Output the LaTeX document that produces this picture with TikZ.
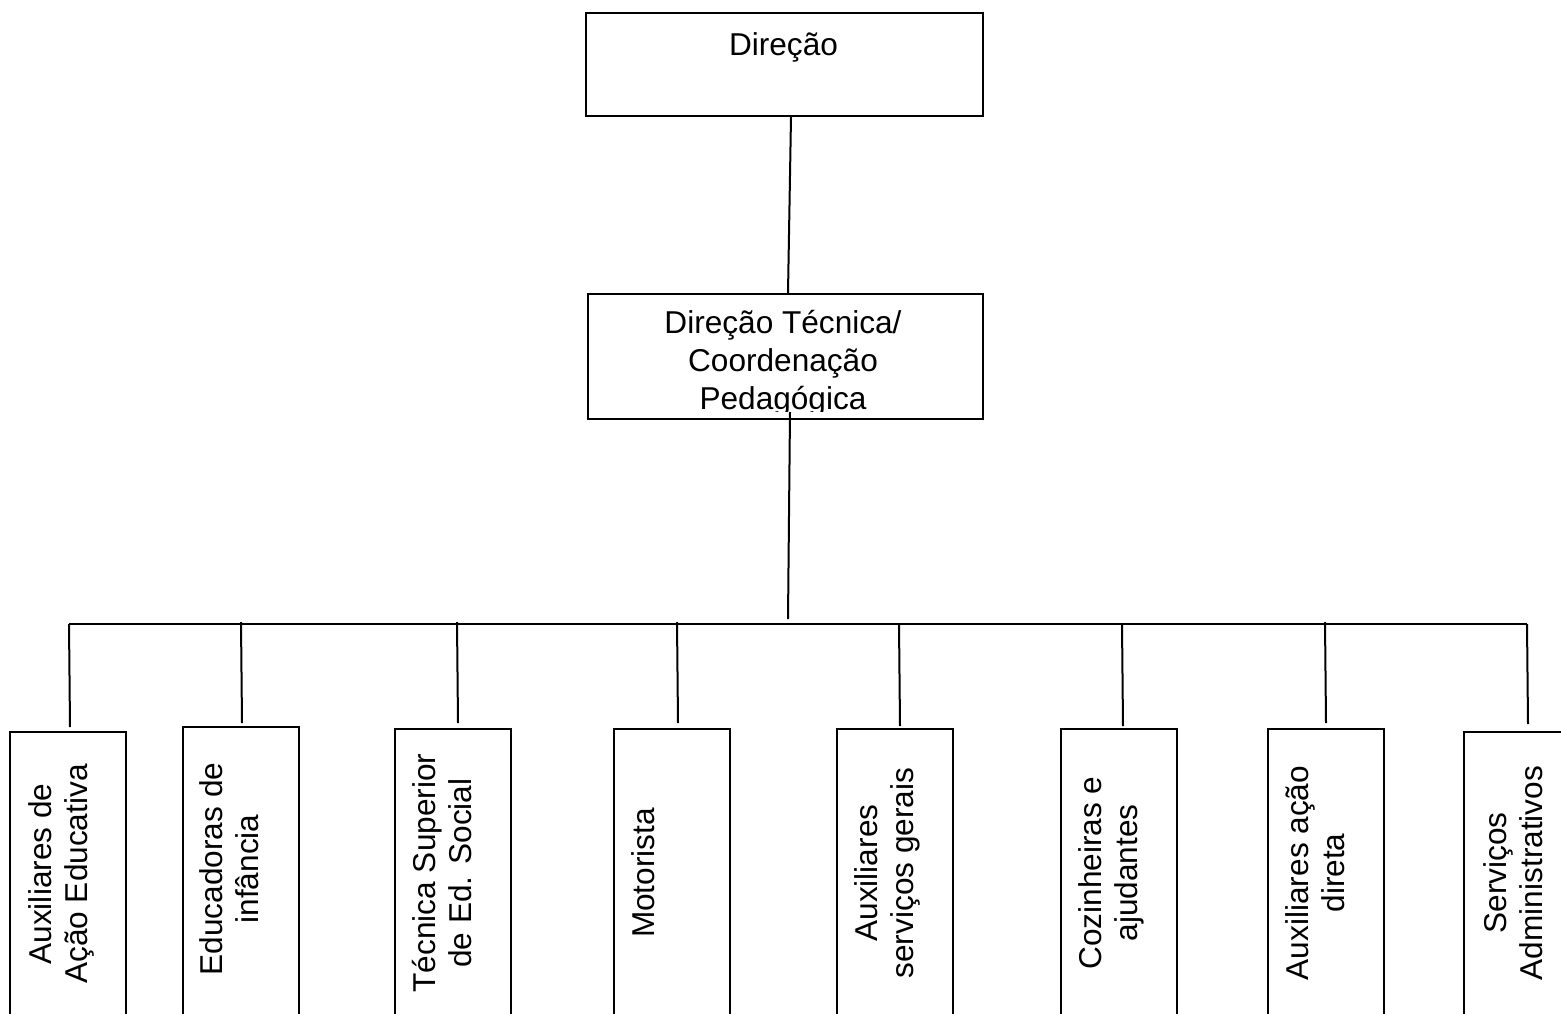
\documentclass[tikz,border=0pt]{standalone}
\usepackage{fontspec}
\setmainfont{Liberation Sans}
\tikzset{
  box/.style={draw, line width=2pt, inner sep=0pt, anchor=north west},
  unit/.style={box, minimum width=116pt, minimum height=330pt},
  lbl/.style={rotate=90, anchor=north, inner sep=0pt, align=center, font=\fontsize{31.6}{36.5}\selectfont},
  conn/.style={line width=2pt},
}
\begin{document}
\begin{tikzpicture}[x=1pt,y=-1pt]
\useasboundingbox (0,0) rectangle (1561,1014);
\clip (0,0) rectangle (1561,1014);
% top boxes
\node[box, minimum width=397pt, minimum height=103pt] (d) at (585,12) {};
\node[anchor=base, inner sep=0pt, font=\fontsize{31.6}{36.5}\selectfont] (dtxt) at (783.5,56) {Direção};
\node[box, minimum width=395pt, minimum height=125pt] (dt) at (587,293) {};
\begin{scope}
\clip (587,293) rectangle (982,411);
\node[anchor=north, inner sep=0pt, align=center, font=\fontsize{31.6}{38}\selectfont] (dttxt) at (783,310) {Direção Técnica/\\Coordenação\\Pedagógica};
\end{scope}
% bottom boxes
\node[unit] (b1) at (9,731) {};
\node[unit] (b2) at (181.5,726) {};
\node[unit] (b3) at (394,728) {};
\node[unit] (b4) at (613,728) {};
\node[unit] (b5) at (836,728) {};
\node[unit] (b6) at (1060,728) {};
\node[unit] (b7) at (1267,728) {};
\node[unit] (b8) at (1463,731) {};
% labels
\node[lbl] (t1) at (28,874) {Auxiliares de\\Ação Educativa};
\node[lbl] (t2) at (199,869) {Educadoras de\\infância};
\node[lbl] (t3) at (412,873) {Técnica Superior\\de Ed. Social};
\node[lbl] (t4) at (631.5,873) {Motorista};
\node[lbl] (t5) at (854,873) {Auxiliares\\serviços gerais};
\node[lbl] (t6) at (1078,873) {Cozinheiras e\\ajudantes};
\node[lbl] (t7) at (1285,873) {Auxiliares ação\\direta};
\node[lbl] (t8) at (1483,873) {Serviços\\Administrativos};
% connectors
\coordinate (busL) at (69,624);
\coordinate (busR) at (1527,624);
\coordinate (hub) at (788,619);
\draw[conn] ([xshift=6.5pt]d.south) -- ([xshift=2.5pt]dt.north);
\draw[conn] ([xshift=4.5pt,yshift=8pt]dt.south) -- (hub);
\draw[conn] (busL) -- (busR);
\draw[conn] (busL) -- ([xshift=2pt,yshift=4pt]b1.north);
\draw[conn] (241,622) -- ([xshift=1.5pt,yshift=3pt]b2.north);
\draw[conn] (457,622) -- ([xshift=5pt,yshift=5pt]b3.north);
\draw[conn] (677,622) -- ([xshift=6pt,yshift=5pt]b4.north);
\draw[conn] (899,624) -- ([xshift=5pt,yshift=2pt]b5.north);
\draw[conn] (1122,624) -- ([xshift=4pt,yshift=2pt]b6.north);
\draw[conn] (1325,622) -- ([xshift=0pt,yshift=5pt]b7.north);
\draw[conn] (busR) -- ([xshift=6pt,yshift=7pt]b8.north);
\end{tikzpicture}
\end{document}
